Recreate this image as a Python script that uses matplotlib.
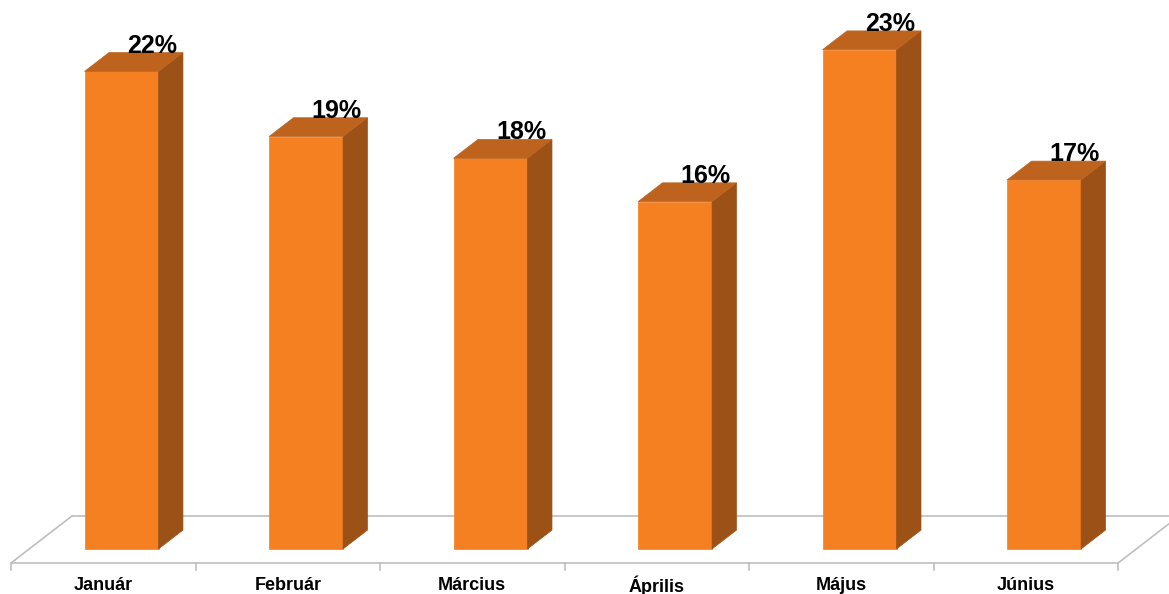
import numpy as np
import matplotlib.pyplot as plt

# havi arányok (%)
honapok = ["Január", "Február", "Március", "Április", "Május", "Június"]
ertekek = [22, 19, 18, 16, 23, 17]

# színek: elülső lap, teteje, oldala
c_front = "#F58021"
c_top = "#BD631D"
c_side = "#9C5116"
c_floor = "#BFBFBF"

fig = plt.figure(figsize=(11.69, 5.94), dpi=100)
ax = fig.add_axes([0, 0, 1, 1])
ax.set_xlim(-0.5596, 5.776)
ax.set_ylim(-1.4286, 25.94)
ax.axis("off")

# mélység vektor (padló teljes mélysége) adategységben
dx, dy = 0.3306, 2.166
d1, d2 = 0.3, 0.7      # oszlop eleje / hátulja a mélységben
w = 0.2005             # fél oszlopszélesség
n = len(honapok)

# padló
x0, x1 = -0.5, n - 0.5
ax.plot([x0, x1], [0, 0], color=c_floor, lw=1.2, zorder=1)
ax.plot([x0 + dx, x1 + dx], [dy, dy], color=c_floor, lw=1.2, zorder=1)
ax.plot([x0, x0 + dx], [0, dy], color=c_floor, lw=1.2, zorder=1)
ax.plot([x1, x1 + dx], [0, dy], color=c_floor, lw=1.2, zorder=1)
for k in range(n + 1):
    ax.plot([x0 + k, x0 + k], [0, -0.32], color=c_floor, lw=1.2, zorder=1)

for i, (h, v) in enumerate(zip(honapok, ertekek)):
    c = i + d1 * dx
    base = d1 * dy
    top = base + v
    ox, oy = (d2 - d1) * dx, (d2 - d1) * dy
    # elülső lap
    ax.fill([c - w, c + w, c + w, c - w], [base, base, top, top],
            color=c_front, ec=c_front, lw=0.5, zorder=3)
    # oldallap
    ax.fill([c + w, c + w + ox, c + w + ox, c + w],
            [base, base + oy, top + oy, top],
            color=c_side, ec=c_side, lw=0.5, zorder=3)
    # tető
    ax.fill([c - w, c + w, c + w + ox, c - w + ox],
            [top, top, top + oy, top + oy],
            color=c_top, ec=c_top, lw=0.5, zorder=3)
    # érték felirat
    ax.annotate(f"{v}%", xy=(c + ox, top + oy), xytext=(6, 7),
                textcoords="offset pixels", ha="center", va="center",
                fontsize=18, fontweight="bold", family="Liberation Sans",
                color="black", zorder=4)
    # kategória felirat
    ax.annotate(h, xy=(i, 0), xytext=(0, -23), textcoords="offset pixels",
                ha="center", va="center", fontsize=13, fontweight="bold",
                family="Liberation Sans", color="black")

fig.savefig("out.png", dpi=100)
